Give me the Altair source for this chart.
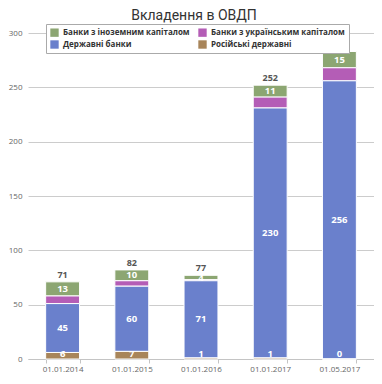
import altair as alt
import pandas as pd

dates = ["01.01.2014", "01.01.2015", "01.01.2016", "01.01.2017", "01.05.2017"]
series = ["Банки з іноземним капіталом", "Банки з українським капіталом",
          "Державні банки", "Російські державні"]
colors = ["#8ca672", "#b45db6", "#6a80cc", "#a8855a"]
foreign = [13, 10, 4, 11, 15]
ukrainian = [7, 5, 1, 10, 12]
state = [45, 60, 71, 230, 256]
russian = [6, 7, 1, 1, 0]
totals = [71, 82, 77, 252, 283]

stack_order = {series[3]: 0, series[2]: 1, series[1]: 2, series[0]: 3}
rows = []
for name, vals in zip(series, [foreign, ukrainian, state, russian]):
    for d, v in zip(dates, vals):
        rows.append({"date": d, "series": name, "value": v, "order": stack_order[name]})
df = pd.DataFrame(rows)
tot_df = pd.DataFrame({"date": dates, "total": totals})

FONT = "Open Sans"

x_enc = alt.X("date:N", sort=dates,
              scale=alt.Scale(paddingInner=0.51, paddingOuter=0.255),
              axis=alt.Axis(title=None, labelAngle=0, tickBand="extent", grid=False,
                            domainColor="#c4c4c4", tickColor="#c4c4c4", tickSize=4,
                            labelColor="#666666", labelFontSize=8, labelPadding=2,
                            labelFont=FONT))
y_scale = alt.Scale(domain=[0, 300], nice=False)

bars = alt.Chart(df).mark_bar(stroke="white", strokeWidth=1).encode(
    x=x_enc,
    y=alt.Y("value:Q", stack="zero", scale=y_scale,
            axis=alt.Axis(title=None, values=[0, 50, 100, 150, 200, 250, 300],
                          domain=False, ticks=False, gridColor="#cccccc",
                          labelColor="#666666", labelFontSize=8, labelPadding=6,
                          labelFont=FONT)),
    color=alt.Color("series:N", scale=alt.Scale(domain=series, range=colors),
                    legend=alt.Legend(title=None, orient="none", legendX=18, legendY=-9,
                                      columns=2, direction="horizontal",
                                      fillColor="white", strokeColor="#aaaaaa",
                                      padding=4, symbolType="square", symbolSize=70,
                                      symbolStrokeWidth=0, labelFontSize=8,
                                      labelFontWeight="bold", labelColor="#333333",
                                      labelFont=FONT, columnPadding=8, rowPadding=3,
                                      labelLimit=250)),
    order=alt.Order("order:Q"),
)

stacked = alt.Chart(df).transform_stack(
    stack="value", groupby=["date"], as_=["y0", "y1"], sort=[alt.SortField("order")]
).transform_calculate(mid="(datum.y0 + datum.y1) / 2", zero="0")

mid_labels = stacked.transform_filter(
    alt.FieldOneOfPredicate(field="series", oneOf=[series[0], series[2]])
).mark_text(color="white", fontWeight="bold", fontSize=9.5, font=FONT, baseline="middle").encode(
    x=alt.X("date:N", sort=dates), y=alt.Y("mid:Q", scale=y_scale), text="value:Q"
)

bottom_labels = stacked.transform_filter(
    alt.FieldEqualPredicate(field="series", equal=series[3])
).mark_text(color="white", fontWeight="bold", fontSize=9.5, font=FONT, baseline="bottom").encode(
    x=alt.X("date:N", sort=dates), y=alt.Y("zero:Q", scale=y_scale), text="value:Q"
)

total_labels = alt.Chart(tot_df).mark_text(color="#555555", fontWeight="bold", fontSize=9,
                                           font=FONT, baseline="bottom", dy=-2).encode(
    x=alt.X("date:N", sort=dates), y=alt.Y("total:Q", scale=y_scale), text="total:Q"
)

chart = alt.layer(bars, mid_labels, bottom_labels, total_labels).properties(
    width=346, height=326,
    autosize=alt.AutoSizeParams(type="none"),
    padding={"left": 20, "top": 25, "right": 0, "bottom": 17},
    title=alt.TitleParams("Вкладення в ОВДП", fontSize=14, font="Roboto", fontWeight="normal",
                          color="#333333", anchor="middle", offset=1, dx=-7),
).configure_view(stroke=None)

chart.save("out.html", embed_options={"renderer": "svg", "actions": False})
